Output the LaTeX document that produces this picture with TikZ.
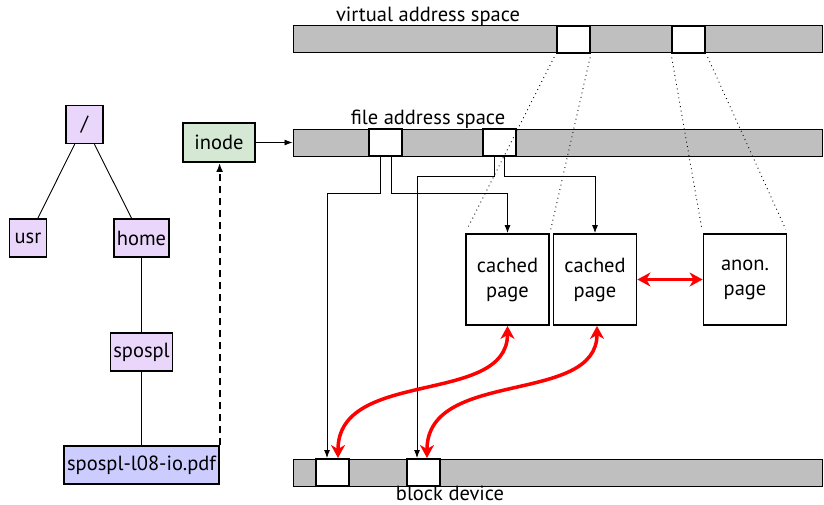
\documentclass[tikz,border=0pt]{standalone}
\usepackage{fontspec}
\setmainfont{PT Sans}
\usetikzlibrary{arrows.meta}
\definecolor{dirfill}{RGB}{235,214,251}
\definecolor{filefill}{RGB}{204,204,255}
\definecolor{inodefill}{RGB}{212,232,212}
\definecolor{barfill}{RGB}{191,191,191}
\begin{document}
\begin{tikzpicture}[x=1pt, y=-1pt,
    every node/.style={font=\fontsize{20.5}{25}\selectfont},
    dirbox/.style={draw, line width=1.4pt, fill=dirfill, minimum width=37pt, minimum height=38pt, inner xsep=3pt, inner ysep=0pt},
    filebox/.style={dirbox, fill=filefill},
    inodebox/.style={draw, line width=1.8pt, fill=inodefill, minimum width=72pt, minimum height=39pt, inner xsep=5pt, inner ysep=0pt},
    bar/.style={draw, line width=1pt, fill=barfill, minimum width=529pt, minimum height=27pt, inner sep=0pt},
    slot/.style={draw, line width=2pt, fill=white, minimum width=33pt, minimum height=27pt, inner sep=0pt},
    pagebox/.style={draw, line width=1.8pt, fill=white, minimum width=83pt, minimum height=91pt, align=center, inner sep=0pt},
    tree/.style={line width=0.9pt},
    link/.style={line width=0.9pt, -{Latex[length=8pt,width=6pt]}},
    map/.style={line width=0.9pt, dash pattern=on 0.9pt off 3.6pt, shorten <=4pt, shorten >=4pt},
    swap/.style={red, line width=3.5pt, {Stealth[length=13pt,width=14pt,inset=4pt]}-{Stealth[length=13pt,width=14pt,inset=4pt]}},
    lookup/.style={line width=2pt, dash pattern=on 7pt off 5pt, -{Latex[length=9pt,width=7pt]}}
]
\useasboundingbox (0,0) rectangle (824,504);

% Directory tree
\node[dirbox] (root) at (84.5,124.5) {/};
\node[dirbox] (usr) at (28,238) {usr};
\node[dirbox] (home) at (141.5,238) {home};
\node[dirbox] (spospl) at (141.5,352) {spospl};
\node[filebox] (pdf) at (141.5,465) {spospl-l08-io.pdf};
\draw[tree] (root) -- (usr);
\draw[tree] (root) -- (home);
\draw[tree] (home) -- (spospl) -- (pdf);

% Inode
\node[inodebox] (inode) at (219,142.5) {inode};
\draw[lookup] (pdf.north east) -- (pdf.north east |- inode.south);

% Address spaces and block device (gray bars)
\node[bar] (vbar) at (557.5,39) {};
\node[bar] (fbar) at (557.5,142.5) {};
\node[bar] (bbar) at (557.5,472.5) {};
\node[anchor=base] (vlabel) at (428,21) {virtual address space};
\node[anchor=base] (flabel) at (428,124) {file address space};
\node[anchor=base] (blabel) at (450,500) {block device};
\draw[link] (inode) -- (fbar.west);

% Pages inside the bars (white slots)
\foreach \name/\x/\y in {vpage1/573.5/39, vpage2/688.5/39, fpage1/385.5/142.5,
                         fpage2/499/142.5, bpage1/332.5/472.5, bpage2/423/472.5}
    \node[slot] (\name) at (\x,\y) {};

% Pages in memory
\node[pagebox] (cache1) at (507.5,279.5) {cached\\page};
\node[pagebox] (cache2) at (595,279.5) {cached\\page};
\node[pagebox] (anon) at (745,279.5) {anon.\\page};

% Mappings (dotted)
\draw[map] (vpage1.south west) -- (cache1.north west);
\draw[map] (vpage1.south east) -- (cache1.north east);
\draw[map] (vpage2.south west) -- (anon.north west);
\draw[map] (vpage2.south east) -- (anon.north east);

% File pages to block device and page cache
\draw[link] ([xshift=-5.5pt]fpage1.south) -- ++(0,36) -| ([xshift=-5.5pt]bpage1.north);
\draw[link] ([xshift=5.5pt]fpage1.south) -- ++(0,36) -| (cache1.north);
\draw[link] ([xshift=-5pt]fpage2.south) -- ++(0,19) -| ([xshift=-6pt]bpage2.north);
\draw[link] ([xshift=5pt]fpage2.south) -- ++(0,19) -| (cache2.north);

% Swapping (red)
\draw[swap] (cache1.south) .. controls +(0,80) and +(0,-90) .. ([xshift=5.5pt]bpage1.north);
\draw[swap] ([xshift=2pt]cache2.south) .. controls +(0,80) and +(0,-90) .. ([xshift=4pt]bpage2.north);
\draw[swap] (cache2.east) -- (anon.west);

\end{tikzpicture}
\end{document}
